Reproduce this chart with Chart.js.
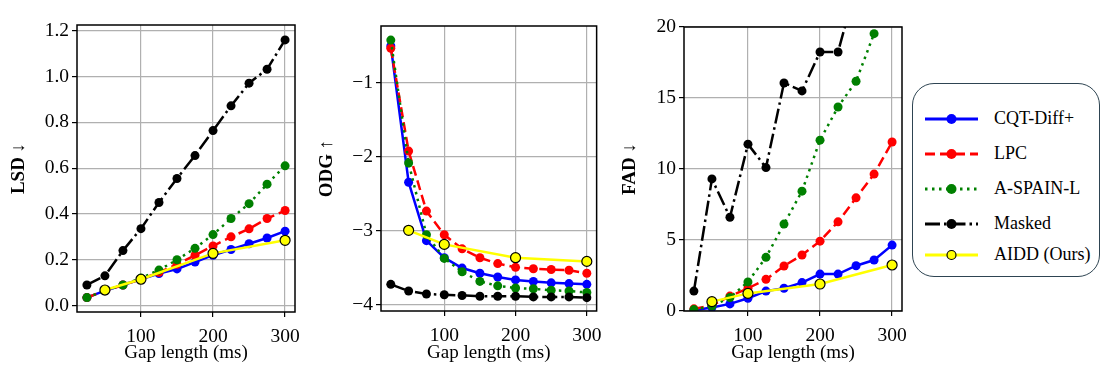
<!DOCTYPE html>
<html>
<head>
<meta charset="utf-8">
<script src="https://cdn.jsdelivr.net/npm/chart.js@4.4.1/dist/chart.umd.min.js"></script>
<style>
  body { margin: 0; width: 1111px; height: 375px; background: #fff; position: relative; overflow: hidden; }
  .panel { position: absolute; top: 0; width: 310px; height: 375px; }
  #legendBox {
    position: absolute; left: 912px; top: 83px; width: 186px; height: 192px;
    border: 1.5px solid #2e4452; border-radius: 22px; background: #fff;
    font-family: "Liberation Serif", "Times New Roman", serif; font-size: 18px; color: #000;
  }
  .row { position: absolute; left: 0; height: 20px; width: 186px; }
  .row svg { position: absolute; left: 11px; top: 0; }
  .row span { position: absolute; left: 81px; top: -1px; line-height: 20px; white-space: nowrap; }
</style>
</head>
<body>
<div class="panel" style="left:0px"><canvas id="lsdChart"></canvas></div>
<div class="panel" style="left:300px"><canvas id="odgChart"></canvas></div>
<div class="panel" style="left:606px"><canvas id="fadChart"></canvas></div>
<div id="legendBox"></div>

<script>
// gap lengths (ms)
const gapMs = [25, 50, 75, 100, 125, 150, 175, 200, 225, 250, 275, 300];
const aiddGapMs = [50, 100, 200, 300];
const gapTicks = [100, 200, 300];

const methodNames = ['CQT-Diff+', 'LPC', 'A-SPAIN-L', 'Masked', 'AIDD (Ours)'];

// LSD
const lsdCqt    = [0.035, 0.065, 0.09, 0.115, 0.14, 0.16, 0.19, 0.22, 0.245, 0.27, 0.295, 0.325];
const lsdLpc    = [0.035, 0.065, 0.09, 0.115, 0.145, 0.18, 0.22, 0.26, 0.30, 0.335, 0.38, 0.415];
const lsdSpain  = [0.035, 0.065, 0.09, 0.12, 0.155, 0.20, 0.25, 0.31, 0.38, 0.445, 0.53, 0.61];
const lsdMasked = [0.09, 0.13, 0.24, 0.336, 0.45, 0.555, 0.655, 0.764, 0.872, 0.971, 1.032, 1.16];
const lsdAidd   = [0.068, 0.115, 0.228, 0.285];
const lsdTicks  = [0, 0.2, 0.4, 0.6, 0.8, 1.0, 1.2];

// ODG
const odgCqt    = [-0.5, -2.34, -3.13, -3.36, -3.5, -3.57, -3.62, -3.66, -3.68, -3.70, -3.71, -3.72];
const odgLpc    = [-0.53, -1.92, -2.73, -3.05, -3.24, -3.36, -3.44, -3.49, -3.51, -3.52, -3.53, -3.57];
const odgSpain  = [-0.42, -2.08, -3.05, -3.37, -3.55, -3.68, -3.74, -3.77, -3.78, -3.80, -3.81, -3.83];
const odgMasked = [-3.72, -3.81, -3.85, -3.86, -3.87, -3.88, -3.88, -3.88, -3.89, -3.89, -3.89, -3.9];
const odgAidd   = [-2.99, -3.18, -3.36, -3.41];
const odgTicks  = [-4, -3, -2, -1];

// FAD
const fadCqt    = [0.05, 0.25, 0.5, 0.9, 1.4, 1.6, 2.0, 2.6, 2.6, 3.19, 3.59, 4.64];
const fadLpc    = [0.15, 0.4, 1.05, 1.6, 2.23, 3.17, 3.94, 4.92, 6.28, 7.97, 9.64, 11.9];
const fadSpain  = [0.1, 0.35, 0.95, 2.05, 3.78, 6.12, 8.44, 12.03, 14.37, 16.18, 19.53, 23.5];
const fadMasked = [1.4, 9.3, 6.6, 11.75, 10.1, 16.06, 15.5, 18.24, 18.24, 22.9, 25.5, 28.0];
const fadAidd   = [0.66, 1.24, 1.9, 3.24];
const fadTicks  = [0, 5, 10, 15, 20];

const serif = '"Liberation Serif", "Times New Roman", serif';

// line styles for the 5 methods
const styles = [
  { color: '#0000ff', dash: [] },
  { color: '#ff0000', dash: [10, 5] },
  { color: '#008000', dash: [2.5, 4.5] },
  { color: '#000000', dash: [15, 4, 2.5, 4] },
  { color: '#ffff00', dash: [] }
];

function pts(xs, ys) {
  return xs.map((x, i) => ({ x: x, y: ys[i] }));
}

function makeDatasets(series) {
  return series.map((ys, i) => {
    const s = styles[i];
    const isAidd = i === 4;
    return {
      label: methodNames[i],
      data: pts(isAidd ? aiddGapMs : gapMs, ys),
      borderColor: s.color,
      backgroundColor: s.color,
      borderWidth: 2.5,
      borderDash: s.dash,
      pointRadius: isAidd ? 5 : 4.5,
      pointBackgroundColor: s.color,
      pointBorderColor: isAidd ? '#000' : s.color,
      pointBorderWidth: isAidd ? 1.2 : 0,
      tension: 0,
      order: 4 - i
    };
  });
}

// box around the plot area, like matplotlib spines
const frame = {
  id: 'frame',
  afterDatasetsDraw(chart) {
    const a = chart.chartArea;
    const ctx = chart.ctx;
    ctx.save();
    ctx.strokeStyle = '#000';
    ctx.lineWidth = 1.5;
    ctx.strokeRect(a.left, a.top, a.right - a.left, a.bottom - a.top);
    ctx.restore();
  }
};

function createPanel(id, series, yTitle, yTicks, yMin, yMax, yFmt, lay) {
  return new Chart(document.getElementById(id), {
    type: 'line',
    data: { datasets: makeDatasets(series) },
    options: {
      responsive: false,
      animation: false,
      layout: { padding: { left: 0, top: lay.top, right: lay.right, bottom: 0 } },
      plugins: { legend: { display: false }, tooltip: { enabled: false } },
      scales: {
        x: {
          type: 'linear',
          min: 11.25,
          max: 313.75,
          afterBuildTicks: (s) => { s.ticks = gapTicks.map(v => ({ value: v })); },
          afterFit: (s) => { s.height = 375 - lay.bottom; },
          grid: { color: '#b0b0b0', lineWidth: 1.2, tickColor: '#000', tickLength: 5, tickWidth: 1.2 },
          border: { display: false },
          ticks: { color: '#000', font: { family: serif, size: 19.5 }, padding: 8, maxRotation: 0 },
          title: { display: true, text: 'Gap length (ms)', color: '#000',
                   font: { family: serif, size: 19 }, padding: { top: 11, bottom: 11 } }
        },
        y: {
          min: yMin,
          max: yMax,
          afterBuildTicks: (s) => { s.ticks = yTicks.map(v => ({ value: v })); },
          afterFit: (s) => { s.width = lay.left; },
          grid: { color: '#b0b0b0', lineWidth: 1.2, tickColor: '#000', tickLength: 5, tickWidth: 1.2 },
          border: { display: false },
          ticks: { color: '#000', font: { family: serif, size: 19.5 }, padding: 3, callback: yFmt },
          title: { display: true, text: yTitle, color: '#000',
                   font: { family: serif, size: 19, weight: 'bold' },
                   padding: { top: lay.titlePad, bottom: lay.titlePad } }
        }
      }
    },
    plugins: [frame]
  });
}

function sizeCanvas(id) {
  const c = document.getElementById(id);
  c.width = 310; c.height = 375;
  c.style.width = '310px'; c.style.height = '375px';
}
['lsdChart', 'odgChart', 'fadChart'].forEach(sizeCanvas);

createPanel('lsdChart', [lsdCqt, lsdLpc, lsdSpain, lsdMasked, lsdAidd], 'LSD ↓',
  lsdTicks, -0.028, 1.225, v => v.toFixed(1),
  { left: 77, top: 25, right: 15, bottom: 312, titlePad: 8 });

createPanel('odgChart', [odgCqt, odgLpc, odgSpain, odgMasked, odgAidd], 'ODG ↑',
  odgTicks, -4.08, -0.23, v => (v < 0 ? '\u2212' : '') + Math.abs(v),
  { left: 81, top: 26, right: 12, bottom: 311, titlePad: 16 });

createPanel('fadChart', [fadCqt, fadLpc, fadSpain, fadMasked, fadAidd], 'FAD ↓',
  fadTicks, 0, 20, v => String(v),
  { left: 78, top: 27, right: 14, bottom: 311, titlePad: 13 });

// legend box
const legendRowsY = [25, 60, 95, 130, 161];
const legendBox = document.getElementById('legendBox');
methodNames.forEach((name, i) => {
  const s = styles[i];
  const row = document.createElement('div');
  row.className = 'row';
  row.style.top = legendRowsY[i] + 'px';
  const isAidd = i === 4;
  const dash = s.dash.length ? 'stroke-dasharray="' + s.dash.join(',') + '"' : '';
  row.innerHTML =
    '<svg width="56" height="20">' +
    '<line x1="1" y1="10" x2="54" y2="10" stroke="' + s.color + '" stroke-width="3" ' + dash + '/>' +
    '<circle cx="27.5" cy="10" r="' + (isAidd ? 4.5 : 5) + '" fill="' + s.color + '" ' +
    (isAidd ? 'stroke="#000" stroke-width="1.2"' : '') + '/>' +
    '</svg><span>' + name + '</span>';
  legendBox.appendChild(row);
});
</script>
</body>
</html>
